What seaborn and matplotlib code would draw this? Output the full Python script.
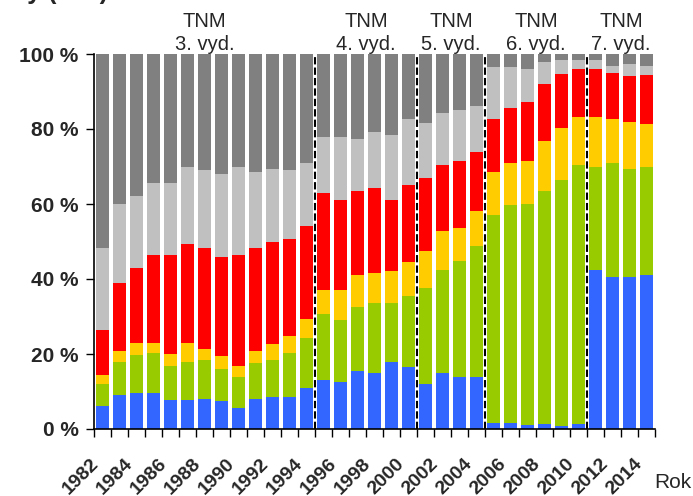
import numpy as np
import pandas as pd
import matplotlib
matplotlib.use("Agg")
import matplotlib.pyplot as plt
import matplotlib.transforms as mtransforms
import seaborn as sns

# Years of diagnosis
years = list(range(1982, 2015))

# Share of each category per year (in %), from bottom of the stack to top
stage_1 = [6.1, 9.1, 9.6, 9.6, 7.7, 7.7, 8.0, 7.5, 5.6, 8.0, 8.5, 8.5, 10.9,
           13.1, 12.5, 15.5, 14.9, 17.9, 16.5, 12.0, 14.9, 13.9, 13.9,
           1.6, 1.6, 1.1, 1.3, 0.8, 1.3, 42.4, 40.5, 40.5, 41.1]
stage_2 = [5.9, 8.8, 10.1, 10.7, 9.1, 10.2, 10.4, 8.5, 8.3, 9.6, 9.9, 11.8, 13.4,
           17.6, 16.6, 17.0, 18.7, 15.7, 19.0, 25.6, 27.5, 30.9, 34.9,
           55.5, 58.1, 58.9, 62.2, 65.6, 69.1, 27.5, 30.4, 28.8, 28.8]
stage_3 = [2.4, 2.9, 3.2, 2.6, 3.2, 5.0, 2.9, 3.5, 2.9, 3.2, 4.3, 4.5, 5.0,
           6.4, 8.0, 8.6, 8.0, 8.5, 9.0, 9.9, 10.4, 8.8, 9.3,
           11.4, 11.2, 11.5, 13.3, 13.9, 12.8, 13.3, 11.8, 12.6, 11.4]
stage_4 = [12.0, 18.1, 20.0, 23.5, 26.4, 26.4, 27.0, 26.4, 29.6, 27.5, 27.2, 25.9, 24.8,
           25.8, 24.0, 22.4, 22.7, 19.0, 20.6, 19.4, 17.6, 17.9, 15.8,
           14.2, 14.7, 15.7, 15.2, 14.4, 12.8, 12.8, 12.2, 12.2, 13.1]
stage_x = [21.9, 21.1, 19.2, 19.2, 19.2, 20.6, 20.8, 22.1, 23.5, 20.2, 19.4, 18.4, 16.8,
           15.0, 16.8, 13.8, 14.9, 17.3, 17.6, 14.7, 13.9, 13.6, 12.2,
           13.8, 10.9, 8.8, 5.9, 3.7, 2.4, 2.4, 1.9, 3.2, 2.4]
unknown = [51.7, 40.0, 37.9, 34.4, 34.4, 30.1, 30.9, 32.0, 30.1, 31.5, 30.7, 30.9, 29.1,
           22.1, 22.1, 22.7, 20.8, 21.6, 17.3, 18.4, 15.7, 14.9, 13.9,
           3.5, 3.5, 4.0, 2.1, 1.6, 1.6, 1.6, 3.2, 2.7, 3.2]

series_names = ["I", "II", "III", "IV", "X", "neznámé"]
series_values = [stage_1, stage_2, stage_3, stage_4, stage_x, unknown]
series_colors = ["#3366FF", "#99CC00", "#FFCC00", "#FF0000", "#C0C0C0", "#808080"]

# TNM editions: label and (first year, last year)
editions = ["3. vyd.", "4. vyd.", "5. vyd.", "6. vyd.", "7. vyd."]
edition_spans = [(1982, 1994), (1995, 2000), (2001, 2004), (2005, 2010), (2011, 2014)]

year_labels = [str(y) for y in years]

# Long table with the cumulative top of every segment
tops = np.cumsum(np.array(series_values), axis=0)
df = pd.DataFrame({
    "rok": np.tile(year_labels, len(series_names)),
    "kategorie": np.repeat(series_names, len(years)),
    "vrchol": tops.ravel(),
})

sns.set_style("ticks")
plt.rcParams["font.family"] = ["Liberation Sans", "DejaVu Sans"]

fig = plt.figure(figsize=(6.93, 4.96), dpi=100)
ax = fig.add_axes([94 / 693, 1 - 429 / 496, (655 - 94) / 693, (429 - 54) / 496])

# Stack by drawing the cumulative tops from the highest layer down
for name, color in reversed(list(zip(series_names, series_colors))):
    sns.barplot(data=df[df["kategorie"] == name], x="rok", y="vrchol",
                order=year_labels, color=color, saturation=1, width=0.72,
                linewidth=0, errorbar=None, ax=ax, zorder=2)

n = len(years)
ax.set_xlim(-0.5, n - 0.5)
ax.set_ylim(0, 100)
ax.set_xlabel("")
ax.set_ylabel("")

# Edition boundaries
for first, last in edition_spans[1:]:
    ax.axvline(years.index(first) - 0.5, color="black", lw=1.5,
               linestyle=(0, (3.5, 1.5)), zorder=3)

# Data x, axes y
xdata_yaxes = mtransforms.blended_transform_factory(ax.transData, ax.transAxes)

# Edition labels above the plot
for label, (first, last) in zip(editions, edition_spans):
    cx = (years.index(first) + years.index(last)) / 2
    ax.annotate(label, xy=(cx, 1), xycoords=xdata_yaxes, xytext=(0, 2.9),
                textcoords="offset points", ha="center", va="baseline",
                fontsize=14.5, annotation_clip=False)
    ax.annotate("TNM", xy=(cx, 1), xycoords=xdata_yaxes, xytext=(0, 19.4),
                textcoords="offset points", ha="center", va="baseline",
                fontsize=14.5, annotation_clip=False)

# Y axis
yt = [0, 20, 40, 60, 80, 100]
ax.set_yticks(yt)
ax.set_yticklabels([f"{v} %" for v in yt], fontweight="bold", fontsize=15)
ax.tick_params(axis="y", direction="out", length=6, width=1, color="black", pad=5)

# X axis: ticks on category boundaries, year labels every second bar
ax.set_xticks(np.arange(-0.5, n, 1.0))
ax.set_xticklabels([])
ax.tick_params(axis="x", which="major", direction="out", length=6, width=1, color="black")
for i, y in enumerate(years):
    if y % 2 == 0:
        ax.annotate(str(y), xy=(i, 0), xycoords=xdata_yaxes, xytext=(-9, -18.7),
                    textcoords="offset points", rotation=45, rotation_mode="anchor",
                    ha="right", va="top", fontweight="bold", fontsize=14,
                    annotation_clip=False)

for side in ("top", "right"):
    ax.spines[side].set_visible(False)
for side in ("left", "bottom"):
    ax.spines[side].set_color("black")
    ax.spines[side].set_linewidth(1.2)
ax.grid(False)

fig.text(654 / 693, 8 / 496, "Rok", ha="left", va="baseline", fontsize=15)
fig.text(108 / 693, 1 + 1 / 496, "Podíly (v %)", ha="right", va="baseline",
         fontsize=18, fontweight="bold")

fig.savefig("out.png", dpi=100)
